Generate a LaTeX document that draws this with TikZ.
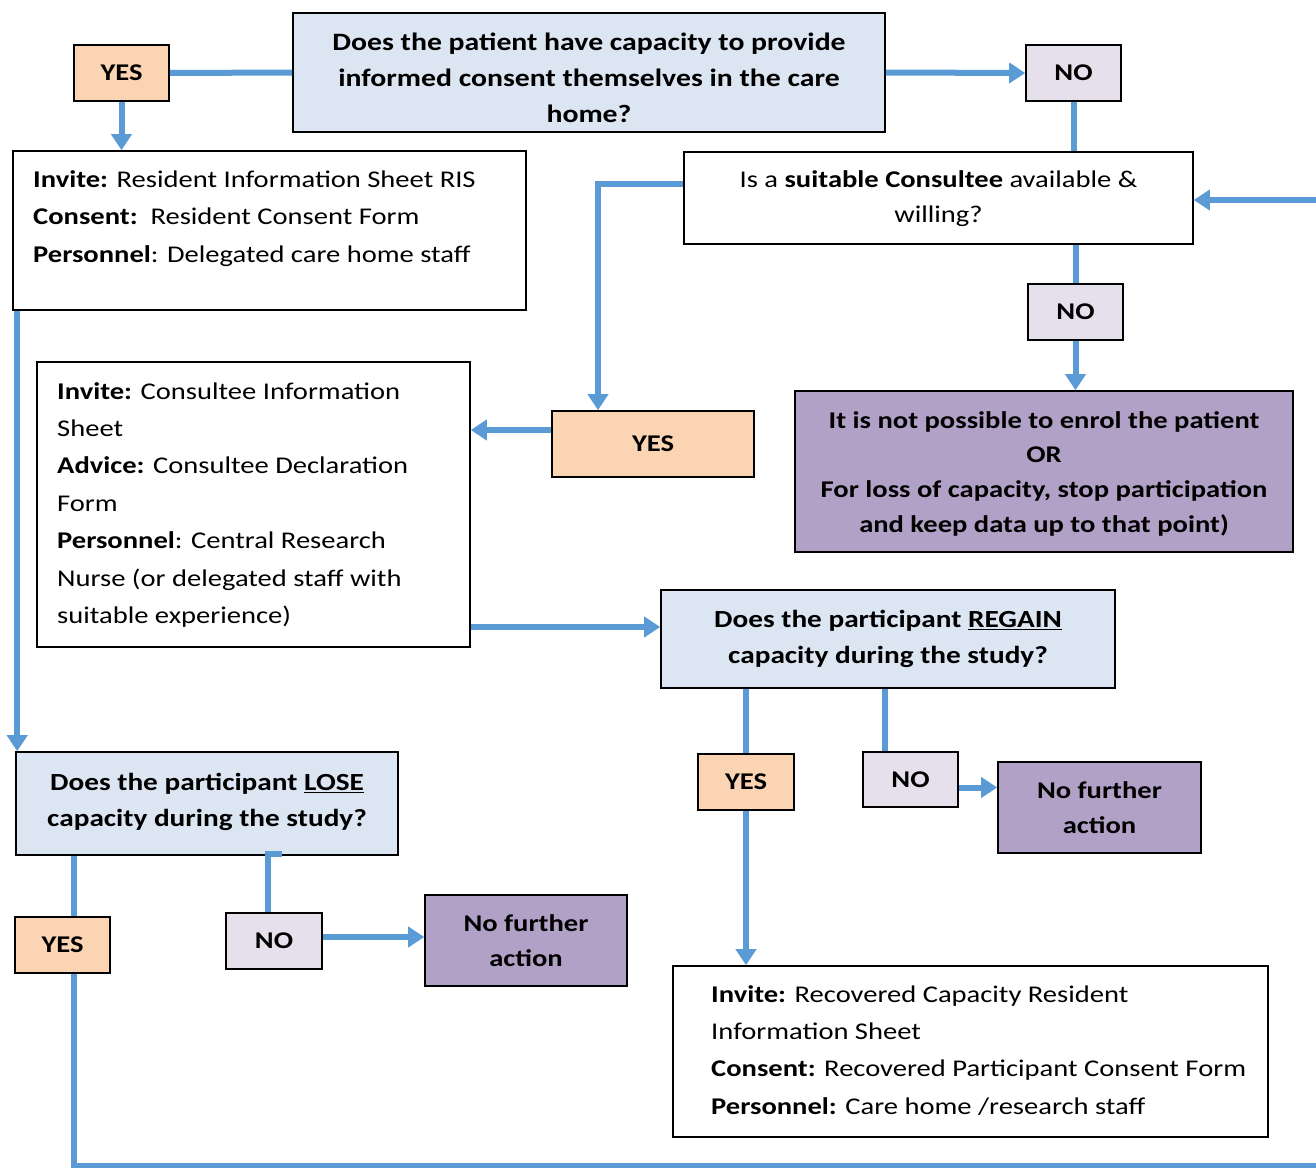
\documentclass[tikz,border=0pt]{standalone}
\usepackage{fontspec}
\setmainfont{Carlito}[FakeStretch=1.19]
\usetikzlibrary{arrows.meta,calc}
\definecolor{lblue}{HTML}{5B9BD5}
\definecolor{qblue}{HTML}{DCE6F2}
\definecolor{peach}{HTML}{FBD4B4}
\definecolor{nolav}{HTML}{E5E0EC}
\definecolor{purp}{HTML}{B2A1C7}
\tikzset{
  conn/.style={draw=lblue, line width=6pt},
  arr/.style={conn, -{Triangle[width=20pt,length=16pt]}},
  box/.style={draw=black, line width=1.6pt, inner sep=0pt, font=\bfseries\fontsize{24}{36}\selectfont, align=center},
  qbox/.style={box, fill=qblue},
  yesbox/.style={box, fill=peach},
  nobox/.style={box, fill=nolav},
  endbox/.style={box, fill=purp},
  wbox/.style={box, fill=white},
  txt/.style={inner sep=0pt, font=\fontsize{24}{37.4}\selectfont, align=left},
  btxt/.style={inner sep=0pt, font=\bfseries\fontsize{24}{36}\selectfont, align=center},
}
\begin{document}
\begin{tikzpicture}[x=1pt,y=-1pt]
\useasboundingbox (0,0) rectangle (1316,1167);
\clip (0,0) rectangle (1316,1167);
\fill[white] (0,0) rectangle (1316,1167);

% boxes
\node[qbox, minimum width=592, minimum height=119] (q1) at (589,72.5) {};
\node[yesbox, minimum width=95, minimum height=56] (yes1) at (121.5,73) {YES};
\node[nobox, minimum width=95, minimum height=56] (no1) at (1073.5,73) {NO};
\node[wbox, minimum width=513, minimum height=159] (b2) at (269.5,230.5) {};
\node[wbox, minimum width=509, minimum height=92] (cons) at (938.5,198) {};
\node[nobox, minimum width=95, minimum height=56] (no2) at (1075.5,312) {NO};
\node[endbox, minimum width=498, minimum height=161] (end1) at (1044,471.5) {};
\node[yesbox, minimum width=202, minimum height=66] (yes2) at (653,444) {YES};
\node[wbox, minimum width=433, minimum height=285] (b3) at (253.5,504.5) {};
\node[qbox, minimum width=454, minimum height=98] (reg) at (888,639) {};
\node[qbox, minimum width=382, minimum height=103] (lose) at (207,803.5) {};
\node[yesbox, minimum width=95, minimum height=56] (yes3) at (62.5,945) {YES};
\node[nobox, minimum width=96, minimum height=56] (no3) at (274,941) {NO};
\node[endbox, minimum width=202, minimum height=91] (nfa1) at (526,940.5) {};
\node[yesbox, minimum width=96, minimum height=56] (yes4) at (746,782) {YES};
\node[nobox, minimum width=95, minimum height=55] (no4) at (910.5,779.5) {NO};
\node[endbox, minimum width=203, minimum height=91] (nfa2) at (1099.5,807.5) {};
\node[wbox, minimum width=595, minimum height=171] (b4) at (970.5,1051.5) {};

% texts
\node[btxt, font=\bfseries\fontsize{25}{36}\selectfont] (q1t) at (589,78) {Does the patient have capacity to provide\\informed consent themselves in the care\\home?};
\node[txt, anchor=north west] (b2t) at (33,170.5) {\textbf{Invite:} Resident Information Sheet RIS\\\textbf{Consent:}\ \ Resident Consent Form\\\textbf{Personnel}: Delegated care home staff};
\node[txt, align=center, font=\fontsize{24}{35}\selectfont] (ct) at (938.5,198.5) {Is a \textbf{suitable Consultee} available \&\\willing?};
\node[btxt, font=\bfseries\fontsize{24}{34.7}\selectfont] (e1t) at (1044,473.5) {It is not possible to enrol the patient\\OR\\For loss of capacity, stop participation\\and keep data up to that point)};
\node[txt, anchor=north west] (b3t) at (57,382) {\textbf{Invite:} Consultee Information\\Sheet\\\textbf{Advice:} Consultee Declaration\\Form\\\textbf{Personnel}: Central Research\\Nurse (or delegated staff with\\suitable experience)};
\node[btxt, font=\bfseries\fontsize{24.6}{36}\selectfont] (rt) at (888,639) {Does the participant \underline{REGAIN}\\capacity during the study?};
\node[btxt, font=\bfseries\fontsize{24.6}{36}\selectfont] (lt) at (207,802) {Does the participant \underline{LOSE}\\capacity during the study?};
\node[btxt, font=\bfseries\fontsize{24}{35}\selectfont] (n1t) at (526,940.5) {No further\\action};
\node[btxt, font=\bfseries\fontsize{24}{35}\selectfont] (n2t) at (1099.5,808) {No further\\action};
\node[txt, anchor=north west] (b4t) at (711,985) {\textbf{Invite:} Recovered Capacity Resident\\Information Sheet\\\textbf{Consent:} Recovered Participant Consent Form\\\textbf{Personnel:} Care home /research staff};

% connectors
\coordinate (rin) at (1320,200);
\coordinate (bot) at (1320,1166);
\draw[conn] (q1.west) -- (yes1.east);
\draw[arr] (q1.east) -- (no1.west);
\draw[arr] (yes1.south) -- (yes1.south |- b2.north);
\draw[conn] (no1.south) -- (no1.south |- cons.north);
\draw[arr] (rin) -- (rin -| cons.east);
\draw[arr] ($(cons.west)+(0,-14)$) -| ($(yes2.north)+(-55,0)$);
\draw[conn] (no2.north |- cons.south) -- (no2.north);
\draw[arr] (no2.south) -- (no2.south |- end1.north);
\draw[arr] ($(yes2.west)+(0,-14)$) coordinate (y2w) -- (y2w -| b3.east);
\draw[arr] (b3.east |- 0,627) coordinate (b3e) -- (b3e -| reg.west);
\draw[arr] ($(b2.south west)+(5,0)$) coordinate (b2s) -- (b2s |- lose.north);
\draw[conn] ($(yes3.north)+(11,0)$) coordinate (y3n) -- (y3n |- lose.south);
\draw[conn] ($(yes3.south)+(11,0)$) |- (bot);
\draw[conn] ($(no3.north)+(-6,0)$) |- ($(lose.south)+(75,-2)$);
\draw[arr] ($(no3.east)+(0,-4)$) coordinate (n3e) -- (n3e -| nfa1.west);
\draw[conn] (yes4.north |- reg.south) -- (yes4.north);
\draw[arr] (yes4.south) -- (yes4.south |- b4.north);
\draw[conn] ($(no4.north)+(-26,0)$) coordinate (n4n) -- (n4n |- reg.south);
\draw[arr] ($(no4.east)+(0,8)$) coordinate (n4e) -- (n4e -| nfa2.west);
\end{tikzpicture}
\end{document}
